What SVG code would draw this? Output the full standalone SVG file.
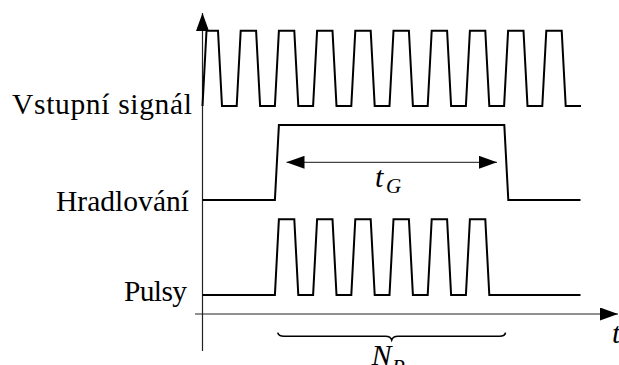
<svg xmlns="http://www.w3.org/2000/svg" width="619" height="365" viewBox="0 0 619 365">
<defs>
<style>
.sig{fill:none;stroke:#000;stroke-width:2;stroke-linejoin:miter}
.axis{fill:none;stroke:#222;stroke-width:1.2}
.lbl{font-size:29.5px;fill:#000}
.math{font-style:italic;fill:#000}
</style>
<marker id="ah" viewBox="0 0 18 13" refX="18" refY="6.5" markerWidth="18" markerHeight="13" markerUnits="userSpaceOnUse" orient="auto">
<path d="M0,0 L18,6.5 L0,13 Z" fill="#000"/>
</marker>
</defs>
<rect width="619" height="365" fill="#fff"/>
<g id="connectors">
<line class="axis" x1="202.5" y1="351" x2="202.5" y2="13" marker-end="url(#ah)"/>
<line class="axis" x1="195" y1="314" x2="618" y2="314" marker-end="url(#ah)"/>
<line x1="390" y1="162.3" x2="286.5" y2="162.3" stroke="#444" stroke-width="1.2" marker-end="url(#ah)"/>
<line x1="390" y1="162.3" x2="497" y2="162.3" stroke="#444" stroke-width="1.2" marker-end="url(#ah)"/>
</g>
<g font-family="'Liberation Serif', 'Times New Roman', serif">
<g id="vstupni">
<path class="sig" d="M202.5,106 L206.5,30.7 L218,30.7 L222,106 L236.7,106 L240.7,30.7 L256.1,30.7 L260.1,106 L274.9,106 L278.9,30.7 L294.3,30.7 L298.3,106 L313.1,106 L317.1,30.7 L332.5,30.7 L336.5,106 L351.3,106 L355.3,30.7 L370.7,30.7 L374.7,106 L389.5,106 L393.5,30.7 L408.9,30.7 L412.9,106 L427.7,106 L431.7,30.7 L447.1,30.7 L451.1,106 L465.9,106 L469.9,30.7 L485.3,30.7 L489.3,106 L504.1,106 L508.1,30.7 L523.5,30.7 L527.5,106 L542.3,106 L546.3,30.7 L561.7,30.7 L565.7,106 L581,106"/>
<text class="lbl" x="192" y="113.5" text-anchor="end" textLength="180">Vstupní signál</text>
</g>
<g id="hradlovani">
<path class="sig" d="M202.5,200 L274.9,200 L278.9,125 L504.3,125 L508.3,200 L580.5,200"/>
<text class="lbl" x="189" y="210.5" text-anchor="end" textLength="133">Hradlování</text>
</g>
<g id="pulsy">
<path class="sig" d="M202.5,295 L274.9,295 L278.9,219.3 L294.3,219.3 L298.3,295 L313.1,295 L317.1,219.3 L332.5,219.3 L336.5,295 L351.3,295 L355.3,219.3 L370.7,219.3 L374.7,295 L389.5,295 L393.5,219.3 L408.9,219.3 L412.9,295 L427.7,295 L431.7,219.3 L447.1,219.3 L451.1,295 L465.9,295 L469.9,219.3 L485.3,219.3 L489.3,295 L580.5,295"/>
<text class="lbl" x="187" y="301" text-anchor="end" textLength="63">Pulsy</text>
</g>
<g id="tG">
<text class="math" x="375" y="187" font-size="30">t</text>
<text class="math" x="386" y="193" font-size="21">G</text>
</g>
<g id="brace">
<path d="M277.7,332.7 Q278.5,336.3 284,336.3 L385.5,336.3 Q390.5,336.3 391.7,340 Q392.9,336.3 398,336.3 L499.5,336.3 Q505,336.3 505.5,332.7" fill="none" stroke="#000" stroke-width="1.6"/>
<text class="math" x="371.5" y="365" font-size="30">N</text>
<text class="math" x="392" y="374" font-size="21">P</text>
</g>
<g id="taxis">
<text class="math" x="612" y="343" font-size="30">t</text>
</g>
</g>
</svg>
